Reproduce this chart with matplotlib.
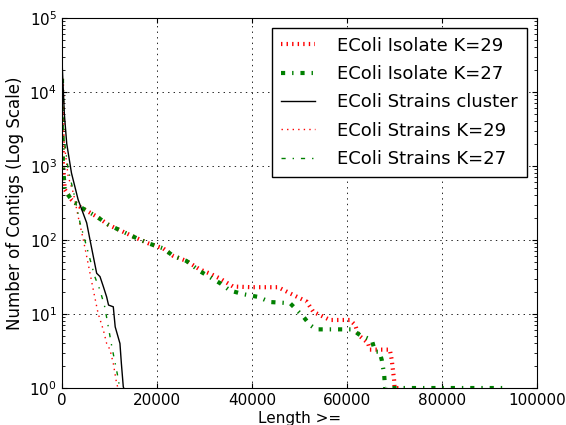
import matplotlib
matplotlib.use('Agg')
import matplotlib.pyplot as plt

# number of contigs with length >= x
iso29_x = [0, 200, 600, 2000, 3800, 7300, 9800, 15400, 18200, 21300, 23400, 26200, 29000,
           31200, 33300, 36000, 40000, 45500, 48000, 51500, 52900, 56400, 60600, 61700, 62400,
           64400, 64800, 69000, 69400, 69900, 70000, 71000]
iso29_y = [15000, 1000, 480, 350, 280, 207, 160, 108, 90, 77, 61, 52, 40,
           35, 30, 23.5, 23, 23, 19, 14.7, 10.7, 8.3, 8.3, 7.1, 5.2,
           4.06, 3.3, 3.3, 2.4, 1.28, 1, 1]

iso27_x = [0, 200, 600, 2000, 3800, 7300, 9800, 15400, 18200, 21300, 23400, 26200, 29000,
           33300, 35400, 38200, 41300, 43800, 48000, 50800, 52200, 53500, 61000, 62700, 65200,
           65900, 66800, 67300, 67800, 68000, 93000]
iso27_y = [15000, 1000, 470, 350, 280, 207, 160, 108, 90, 77, 61, 52, 38,
           26, 20.7, 18.5, 17, 14.5, 14, 9.2, 7.1, 6.2, 6.2, 5.2, 4.45,
           3.1, 3.1, 2.4, 1.55, 1, 1]

clus_x = [0, 500, 1000, 2000, 3400, 5200, 5900, 7300, 8000, 8700, 9400, 9800, 10800, 11200,
          12200, 12500, 12900, 13000]
clus_y = [27000, 5000, 2000, 800, 350, 170, 100, 35.5, 32, 23.5, 17, 13.2, 12.5, 6.7,
          4, 2.15, 1.04, 1]

str29_x = [0, 300, 1300, 2400, 3400, 4500, 5500, 6600, 7600, 8700, 9400, 10100, 10800, 11500, 11800]
str29_y = [12000, 2500, 720, 430, 207, 100, 48, 21, 10.2, 6.1, 4, 3.3, 2.15, 1.15, 1]

str27_x = [0, 300, 1300, 2600, 3800, 4800, 6900, 8000, 9000, 10500, 11200, 11900, 12100]
str27_y = [12000, 2800, 900, 400, 170, 100, 32, 21, 12.5, 3.6, 2.15, 1.28, 1]

labels = ['EColi Isolate K=29', 'EColi Isolate K=27', 'EColi Strains cluster',
          'EColi Strains K=29', 'EColi Strains K=27']

# old-style dash patterns that do not grow with line width
plt.rcParams['lines.scale_dashes'] = False
plt.rcParams['lines.dotted_pattern'] = [1, 3]
plt.rcParams['lines.dashdot_pattern'] = [3, 5, 1, 5]
plt.rcParams['xtick.direction'] = 'in'
plt.rcParams['ytick.direction'] = 'in'
plt.rcParams['font.size'] = 11

fig = plt.figure(figsize=(5.66, 4.25), dpi=100)
ax = fig.add_axes([0.1095, 0.087, 0.8395, 0.871])

ax.plot(iso29_x, iso29_y, color='r', linestyle=':', linewidth=3, label=labels[0])
ax.plot(iso27_x, iso27_y, color='g', linestyle='-.', linewidth=3, label=labels[1])
ax.plot(clus_x, clus_y, color='k', linestyle='-', linewidth=1, label=labels[2])
ax.plot(str29_x, str29_y, color='r', linestyle=':', linewidth=1, label=labels[3])
ax.plot(str27_x, str27_y, color='g', linestyle='-.', linewidth=1, label=labels[4])

ax.set_yscale('log')
ax.set_xlim(0, 100000)
ax.set_ylim(1, 100000)
ax.set_xticks([0, 20000, 40000, 60000, 80000, 100000])
ax.set_xticklabels(['0', '20000', '40000', '60000', '80000', '100000'])
ax.tick_params(top=True, right=True, which='both')
ax.grid(True, color='k', linestyle=':', linewidth=0.6)
ax.set_xlabel('Length >=', labelpad=2)
ax.set_ylabel('Number of Contigs (Log Scale)', fontsize=12)

leg = ax.legend(loc='upper right', fontsize=13, fancybox=False, edgecolor='k',
                framealpha=1, handlelength=1.9, handletextpad=1.25, borderaxespad=0.55,
                labelspacing=0.57, borderpad=0.5)
leg.get_frame().set_linewidth(1)

fig.savefig('out.png', dpi=100)
